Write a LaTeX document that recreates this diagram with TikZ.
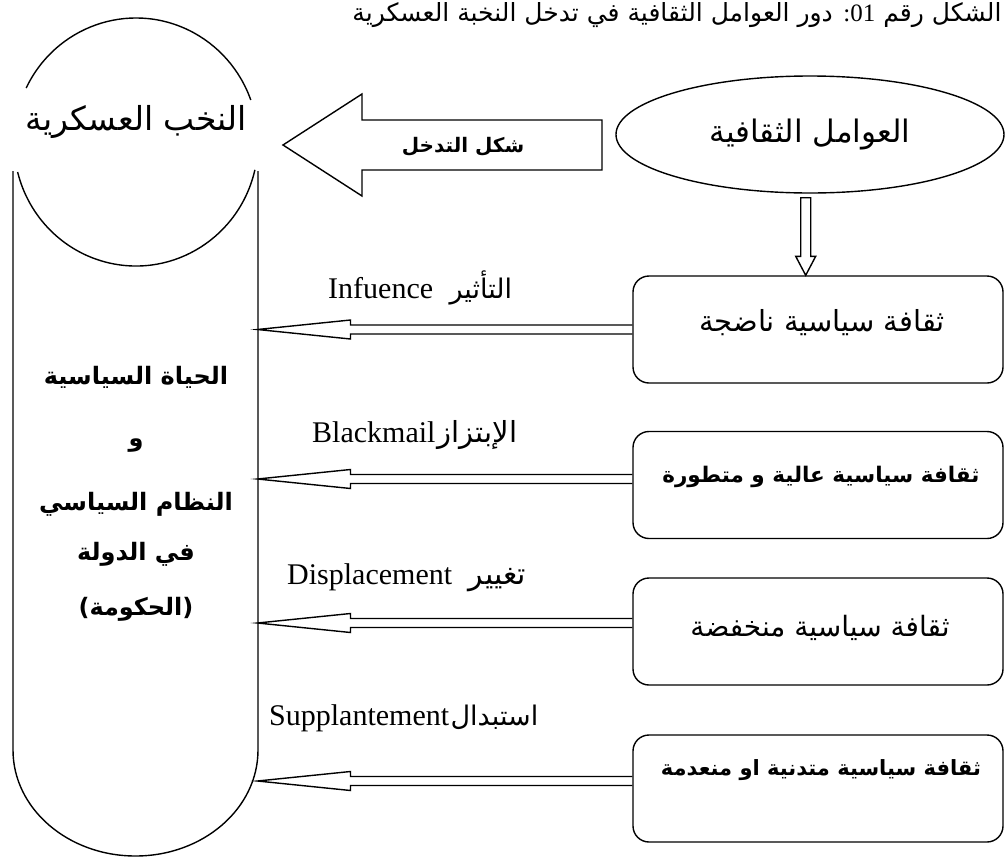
\documentclass[tikz,border=0pt]{standalone}
\usepackage{fontspec}
\setmainfont{Liberation Serif}
\newfontfamily\arab[Script=Arabic]{DejaVu Sans}
\newfontfamily\dejavu{DejaVu Sans}
\TeXXeTstate=1
\usetikzlibrary{calc,shapes.geometric}

% Arabic run, set right to left
\newcommand\ar[1]{{\arab\beginR#1\endR}}
\newcommand\fs[1]{\fontsize{#1}{#1}\selectfont}

\tikzset{
  outline/.style={draw, line width=1.4pt, line join=miter},
  stage/.style={outline, rounded corners=16pt, minimum width=370pt,
    minimum height=107pt, inner sep=0pt},
  % hollow arrow pointing left: double shaft and open head
  hollowleft/.style={outline, to path={
    let \p1=(\tikztostart), \p2=(\tikztotarget) in
    (\x1,\y1+4.5pt) -- (\x2+93pt,\y1+4.5pt) -- (\x2+93pt,\y1+9.5pt)
    -- (\x2,\y1) -- (\x2+93pt,\y1-9.5pt) -- (\x2+93pt,\y1-4.5pt)
    -- (\x1,\y1-4.5pt)}},
  % hollow arrow pointing down, closed at its top
  hollowdown/.style={outline, to path={
    let \p1=(\tikztostart), \p2=(\tikztotarget) in
    (\x1-5pt,\y1-4pt) -- (\x1-5pt,\y2+19pt) -- (\x1-10pt,\y2+19pt)
    -- (\x1,\y2) -- (\x1+10pt,\y2+19pt) -- (\x1+5pt,\y2+19pt)
    -- (\x1+5pt,\y1-4pt) -- cycle}},
  latinterm/.style={anchor=base west, inner sep=0pt, font=\fs{30}},
  arabterm/.style={anchor=base west, inner sep=0pt},
  bodyline/.style={inner sep=0pt, font=\arab\bfseries\fs{24}},
}

\begin{document}
\begin{tikzpicture}[x=1pt, y=-1pt]
\useasboundingbox (0,0) rectangle (1005,857);

% caption
\node[anchor=base, inner sep=0pt, font=\fs{25}] (caption) at (677,21)
  {\ar{الشكل رقم \beginL{\rmfamily 01}\endL{\rmfamily:} دور العوامل الثقافية في تدخل النخبة العسكرية}};

% military elites: circle broken by its title, above the state column
\coordinate (ec) at (136,142);
\draw[outline] ($(ec)+(205.8:122 and 124)$) arc[start angle=205.8, end angle=340.2, x radius=122, y radius=124];
\draw[outline] ($(ec)+(13:122 and 124)$) arc[start angle=13, end angle=166, x radius=122, y radius=124];
\node[inner sep=0pt, font=\fs{33}] (elite) at (136,122) {\ar{النخب العسكرية}};

% political life column
\draw[outline] (13,171) -- (13,750) arc[start angle=180, end angle=0, x radius=122.5, y radius=106] -- (258,171);
\coordinate (rail) at (257.5,0);
\node[bodyline] (g1) at (136,377) {\ar{الحياة السياسية}};
\node[bodyline] (g2) at (136,446) {\ar{و}};
\node[bodyline] (g3) at (136,504) {\ar{النظام السياسي}};
\node[bodyline] (g4) at (136,554) {\ar{في الدولة}};
\node[bodyline] (g5) at (136,609) {{\dejavu\bfseries(}\ar{الحكومة}{\dejavu\bfseries)}};

% form of intervention
\draw[outline] (602,120) -- (362,120) -- (362,94) -- (283,145) -- (362,196) -- (362,170) -- (602,170) -- cycle;
\node[inner sep=0pt, font=\arab\bfseries\fs{20}] (form) at (463,147) {\ar{شكل التدخل}};

% cultural factors
\node[outline, ellipse, minimum width=388pt, minimum height=117pt, inner sep=0pt,
  font=\fs{31}] (factors) at (810,134.5) {\ar{العوامل الثقافية}};

% the four political cultures
\node[stage] (b1) at (818,329.5) {};
\node[stage] (b2) at (818,485) {};
\node[stage] (b3) at (818,631.5) {};
\node[stage] (b4) at (818,788.5) {};
\node[inner sep=0pt, font=\fs{29}] (t1) at (822,323) {\ar{ثقافة سياسية ناضجة}};
\node[inner sep=0pt, font=\bfseries\fs{21.5}] (t2) at (821,477) {\ar{ثقافة سياسية عالية و متطورة}};
\node[inner sep=0pt, font=\fs{28}] (t3) at (820,628) {\ar{ثقافة سياسية منخفضة}};
\node[inner sep=0pt, font=\bfseries\fs{21}] (t4) at (821,770) {\ar{ثقافة سياسية متدنية او منعدمة}};

\coordinate (down) at (805.7,0);
\draw[hollowdown] (factors.south -| down) to (b1.north -| down);

\draw[hollowleft] (b1.west) to (b1.west -| rail);
\draw[hollowleft] (b2.west |- 0,479) to (rail |- 0,479);
\draw[hollowleft] (b3.west |- 0,623) to (rail |- 0,623);
\draw[hollowleft] (b4.west |- 0,781) to (rail |- 0,781);

% link labels: Latin term followed by its Arabic term
\node[latinterm] (l1) at (328,298) {Infuence};
\node[arabterm, font=\fs{27}] (a1) at ([xshift=16pt]l1.base east) {\ar{التأثير}};
\node[latinterm] (l2) at (312,442) {Blackmail};
\node[arabterm, font=\fs{29}] (a2) at ([xshift=2pt]l2.base east) {\ar{الإبتزاز}};
\node[latinterm] (l3) at (287,584) {Displacement};
\node[arabterm, font=\fs{30}] (a3) at ([xshift=16pt]l3.base east) {\ar{تغيير}};
\node[latinterm] (l4) at (269,725) {Supplantement};
\node[arabterm, font=\fs{27}] (a4) at ([xshift=1pt]l4.base east) {\ar{استبدال}};
\end{tikzpicture}
\end{document}
